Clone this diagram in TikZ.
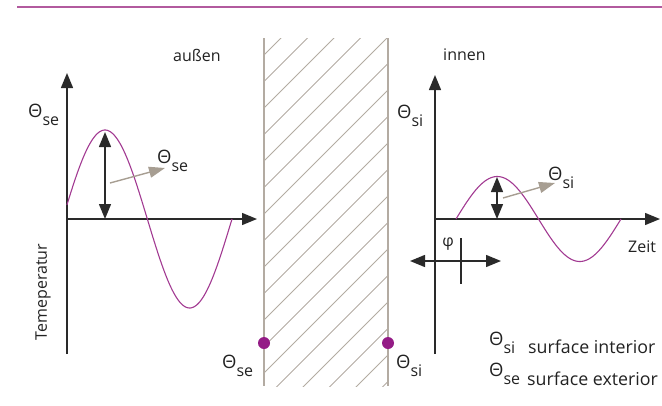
\documentclass[tikz,border=0pt]{standalone}
\usepackage{fontspec}
\setmainfont{Open Sans}
\usetikzlibrary{arrows.meta}
\definecolor{topline}{HTML}{B25A9E}
\definecolor{wave}{HTML}{A23A92}
\definecolor{dotc}{HTML}{941C86}
\definecolor{wallc}{HTML}{B3ABA2}
\definecolor{grayarr}{HTML}{A79E92}
\definecolor{axisc}{HTML}{2A2A2A}
\definecolor{txt}{HTML}{222222}
\newcommand\thsub[1]{{\fontsize{18.5}{18.5}\selectfont Θ}\raisebox{-8pt}{\fontsize{16}{16}\selectfont #1}}
\begin{document}
\begin{tikzpicture}[x=1pt,y=-1pt,
  axisline/.style={draw=axisc,line width=1.4pt,-{Triangle[length=15pt,width=12pt]}},
  dblarrow/.style={draw=axisc,line width=1.4pt,{Triangle[length=15pt,width=12pt]}-{Triangle[length=15pt,width=12pt]}},
  grayarrow/.style={draw=grayarr,line width=1.4pt,-{Triangle[length=16pt,width=11pt]}},
  wavecurve/.style={draw=wave,line width=1.1pt},
  walledge/.style={draw=wallc,line width=2.4pt},
  hatch/.style={draw=wallc,line width=1pt},
  lbl/.style={inner sep=0pt,text=txt,font=\fontsize{16}{16}\selectfont},
  lgd/.style={inner sep=0pt,text=txt,font=\fontsize{17.8}{17.8}\selectfont},
  surfdot/.style={circle,fill=dotc,inner sep=0pt,minimum size=12pt}]
\useasboundingbox (0,0) rectangle (662,405);
% top rule
\coordinate (tl) at (17,7);
\coordinate (tr) at (662,7);
\draw[topline,line width=1.6pt] (tl) -- (tr);
% wall hatch
\begin{scope}
\clip (264,38) rectangle (388,386);
\foreach \c in {55,81.5,...,520} {
  \draw[hatch] (264,\c) -- (388,{\c-124});
}
\end{scope}
\coordinate (wlt) at (264,38);
\coordinate (wlb) at (264,386);
\coordinate (wrt) at (388,38);
\coordinate (wrb) at (388,386);
\draw[walledge] (wlt) -- (wlb);
\draw[walledge] (wrt) -- (wrb);
% left axes
\coordinate (lyb) at (67,354);
\coordinate (lyt) at (67,73);
\coordinate (lo) at (67,219);
\coordinate (lxe) at (257,219);
\draw[axisline] (lyb) -- (lyt);
\draw[axisline] (lo) -- (lxe);
% left wave
\draw[wavecurve] plot[domain=9:360,samples=120,smooth] ({105+(\x-90)*0.4704},{219-89*sin(\x)});
\coordinate (lpk) at (105,132);
\coordinate (lpb) at (105,219);
\draw[dblarrow] (lpk) -- (lpb);
\coordinate (lga) at (110,183);
\coordinate (lgb) at (165,168);
\draw[grayarrow] (lga) -- (lgb);
% right axes
\coordinate (ryb) at (435,354);
\coordinate (ryt) at (435,75);
\coordinate (ro) at (435,219);
\coordinate (rxe) at (660,219);
\draw[axisline] (ryb) -- (ryt);
\draw[axisline] (ro) -- (rxe);
% right wave
\draw[wavecurve] plot[domain=0:360,samples=120,smooth] ({456+\x*0.45833},{219-42.5*sin(\x)});
\coordinate (rpk) at (497,177);
\coordinate (rpb) at (497,219);
\draw[dblarrow] (rpk) -- (rpb);
\coordinate (rga) at (503,198);
\coordinate (rgb) at (555,183);
\draw[grayarrow] (rga) -- (rgb);
% phase shift
\coordinate (pt) at (461,238);
\coordinate (pb) at (461,284);
\draw[draw=axisc,line width=1.4pt] (pt) -- (pb);
\coordinate (pl) at (410,261);
\coordinate (pr) at (501,261);
\draw[dblarrow] (pl) -- (pr);
% dots
\node[surfdot] (d1) at (264,343) {};
\node[surfdot] (d2) at (388,343) {};
% labels
\node[lbl,anchor=base west] (aussen) at (173,61) {außen};
\node[lbl,anchor=base west] (innen) at (443,60) {innen};
\node[lbl,anchor=base west] (tse1) at (28,117) {\thsub{se}};
\node[lbl,anchor=base west] (tse2) at (157,163) {\thsub{se}};
\node[lbl,anchor=base west] (tsi1) at (397,118) {\thsub{si}};
\node[lbl,anchor=base west] (tsi2) at (548,180) {\thsub{si}};
\node[lbl,anchor=base west] (tse3) at (222,368) {\thsub{se}};
\node[lbl,anchor=base west] (tsi3) at (396,368) {\thsub{si}};
\node[lbl,anchor=center] (phi) at (448,244) {φ};
\node[lbl,anchor=base west] (zeit) at (628,252) {Zeit};
\node[lbl,anchor=center,rotate=90] (temp) at (43,292) {Temeperatur};
\node[lbl,anchor=base west] (lg1) at (489,345) {\thsub{si}};
\node[lgd,anchor=base west] (lg1t) at (528,353) {surface interior};
\node[lbl,anchor=base west] (lg2) at (489,376) {\thsub{se}};
\node[lgd,anchor=base west] (lg2t) at (527,385) {surface exterior};
\end{tikzpicture}
\end{document}
